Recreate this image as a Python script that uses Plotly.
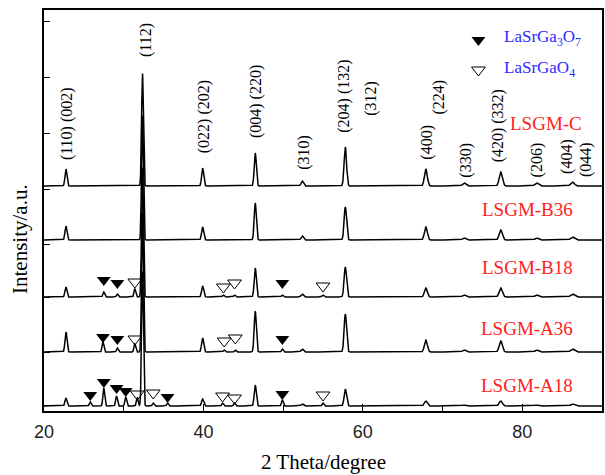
import numpy as np
import plotly.graph_objects as go

# ---- data -----------------------------------------------------------------
samples = ["LSGM-A18", "LSGM-A36", "LSGM-B18", "LSGM-B36", "LSGM-C"]
offsets = [5, 59, 114, 171, 225]          # vertical stacking of the patterns

# perovskite reflections (2theta, deg) and their widths (sigma, deg)
main_pos = [22.75, 32.35, 39.9, 46.5, 52.4, 57.8, 67.9, 72.7, 77.3, 81.8, 86.3]
main_sig = [0.12, 0.11, 0.13, 0.13, 0.15, 0.15, 0.18, 0.2, 0.2, 0.22, 0.24]
main_int = {
    "LSGM-C":   [17, 113, 18, 33, 5, 39, 17, 3, 14, 3, 4],
    "LSGM-B36": [14, 125, 13, 37, 4, 33, 13, 2, 10, 2, 3],
    "LSGM-B18": [10, 130, 11, 29, 3, 30, 9, 2, 9, 2, 3],
    "LSGM-A36": [20, 140, 14, 41, 3, 38, 12, 2, 11, 2, 3],
    "LSGM-A18": [8, 135, 7, 21, 2, 17, 5, 1, 5, 1, 2],
}

# LaSrGa3O7 reflections: positions, intensities, marker heights above baseline
p7_pos = {"LSGM-A18": [25.8, 27.5, 29.1, 30.25, 35.5, 49.9],
          "LSGM-A36": [27.4, 29.2, 49.9],
          "LSGM-B18": [27.5, 29.2, 49.9]}
p7_int = {"LSGM-A18": [4, 18, 10, 9, 3, 6],
          "LSGM-A36": [10, 4, 3],
          "LSGM-B18": [5, 3, 2]}
p7_mark = {"LSGM-A18": [11, 24, 18, 15, 9, 12],
           "LSGM-A36": [15, 13, 13],
           "LSGM-B18": [17, 14, 14]}

# LaSrGaO4 reflections
p4_pos = {"LSGM-A18": [31.7, 33.7, 42.4, 43.9, 55.0],
          "LSGM-A36": [31.4, 42.6, 44.0],
          "LSGM-B18": [31.4, 42.5, 43.9, 55.0]}
p4_int = {"LSGM-A18": [8, 3, 3, 3, 3],
          "LSGM-A36": [8, 2, 2],
          "LSGM-B18": [8, 2, 2, 2]}
p4_mark = {"LSGM-A18": [12, 13, 10, 8, 11],
           "LSGM-A36": [13, 11, 14],
           "LSGM-B18": [15, 10, 14, 11]}

# Miller index labels: text, 2theta, height
hkl_text = ["(110) (002)", "(112)", "(022) (202)", "(004) (220)", "(310)",
            "(204) (132)", "(312)", "(400)", "(224)", "(330)",
            "(420) (332)", "(206)", "(404)", "(044)"]
hkl_x = [22.9, 32.8, 40.1, 46.6, 52.6, 57.6, 61.0, 68.0, 69.5, 72.9,
         77.0, 81.9, 85.6, 88.0]
hkl_y = [287, 371, 294, 309, 259, 315, 313, 269, 314, 251, 285, 251, 255, 251]

label_x = [80.6, 80.6, 80.6, 80.6, 83.0]
label_y = [26, 83, 144, 202, 288]

y_ticks = [6, 59, 114, 167, 222, 278, 334, 390]

# ---- figure ---------------------------------------------------------------
tt = np.arange(20, 90.0001, 0.02)


def profile(pos, sig, inten):
    y = np.zeros_like(tt)
    for p, s, h in zip(pos, sig, inten):
        y += h * np.exp(-0.5 * ((tt - p) / s) ** 2)
    return y


fig = go.Figure()
serif = "Liberation Serif, Times New Roman, serif"

for name, off, lx, ly in zip(samples, offsets, label_x, label_y):
    y = profile(main_pos, main_sig, main_int[name])
    if name in p7_pos:
        y += profile(p7_pos[name], [0.11] * len(p7_pos[name]), p7_int[name])
        y += profile(p4_pos[name], [0.11] * len(p4_pos[name]), p4_int[name])
    fig.add_trace(go.Scatter(x=tt, y=y + off, mode="lines",
                             line=dict(color="black", width=1.5),
                             showlegend=False, hoverinfo="skip"))
    if name in p7_pos:
        fig.add_trace(go.Scatter(
            x=p7_pos[name], y=[off + m for m in p7_mark[name]], mode="markers",
            marker=dict(symbol="triangle-down", size=12, color="black"),
            showlegend=False))
        fig.add_trace(go.Scatter(
            x=p4_pos[name], y=[off + m for m in p4_mark[name]], mode="markers",
            marker=dict(symbol="triangle-down-open", size=12, color="black",
                        line=dict(width=1)),
            showlegend=False))
    fig.add_annotation(x=lx, y=ly, text=name, showarrow=False,
                       font=dict(family=serif, size=19, color="#ff2020"))

for t, x, y in zip(hkl_text, hkl_x, hkl_y):
    fig.add_annotation(x=x, y=y, text=t, textangle=-90, showarrow=False,
                       font=dict(family=serif, size=16, color="black"))

# phase key
fig.add_trace(go.Scatter(x=[74.5], y=[371], mode="markers",
                         marker=dict(symbol="triangle-down", size=12, color="black"),
                         showlegend=False))
fig.add_trace(go.Scatter(x=[74.5], y=[341], mode="markers",
                         marker=dict(symbol="triangle-down-open", size=12, color="black",
                                     line=dict(width=1)),
                         showlegend=False))
fig.add_annotation(x=77.5, y=373, xanchor="left", showarrow=False,
                   text="LaSrGa<sub>3</sub>O<sub>7</sub>",
                   font=dict(family=serif, size=17, color="#2a2aff"))
fig.add_annotation(x=77.5, y=342, xanchor="left", showarrow=False,
                   text="LaSrGaO<sub>4</sub>",
                   font=dict(family=serif, size=17, color="#2a2aff"))

# axis titles
fig.add_annotation(xref="paper", yref="paper", x=0.5, y=-0.128,
                   xanchor="center", yanchor="middle", showarrow=False,
                   text="2 Theta/degree", font=dict(family=serif, size=21, color="black"))
fig.add_annotation(xref="paper", yref="paper", x=0, y=0.429, xshift=-24,
                   xanchor="center", yanchor="middle",
                   textangle=-90, showarrow=False, text="Intensity/a.u.",
                   font=dict(family=serif, size=21, color="black"))

fig.update_xaxes(range=[20, 90], tickvals=[20, 40, 60, 80], ticks="inside",
                 ticklen=7, tickwidth=1.2, tickcolor="black", ticklabelstandoff=4,
                 minor=dict(tickvals=[30, 50, 70], ticks="inside", ticklen=6,
                            tickcolor="black", tickwidth=1.2),
                 showline=True, linecolor="black", linewidth=1.5, mirror=True,
                 showgrid=False, zeroline=False,
                 tickfont=dict(family="Liberation Sans, Arial", size=18, color="#222"))
fig.update_yaxes(range=[0, 401], tickvals=y_ticks, showticklabels=False,
                 ticks="inside", ticklen=6, tickwidth=1.2, tickcolor="black",
                 showline=True, linecolor="black", linewidth=1.5, mirror=True,
                 showgrid=False, zeroline=False)
fig.update_layout(width=605, height=475, margin=dict(l=44, r=1, t=10, b=64),
                  plot_bgcolor="white", paper_bgcolor="white")

fig.write_html("out.html")
